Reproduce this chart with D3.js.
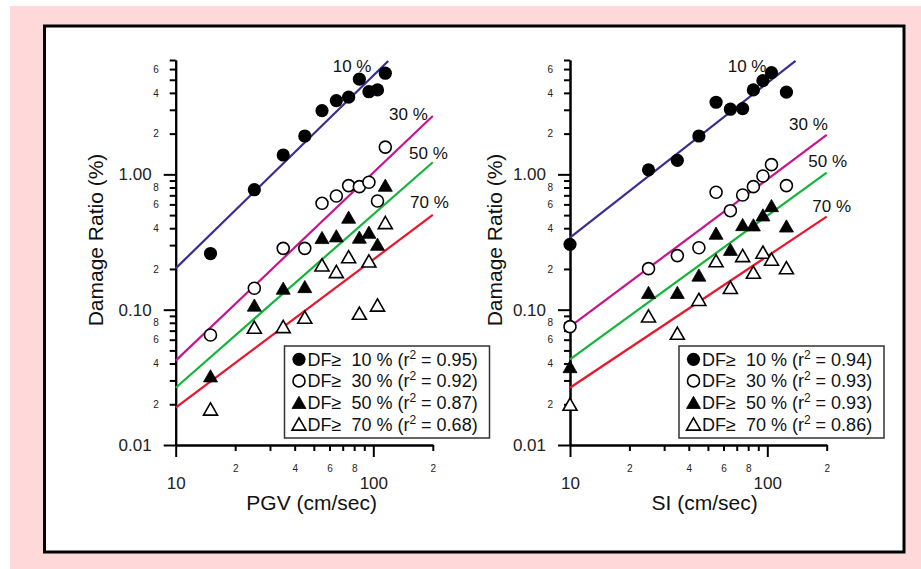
<!DOCTYPE html>
<html>
<head>
<meta charset="utf-8">
<script src="https://cdn.jsdelivr.net/npm/d3@7"></script>
<style>
html,body{margin:0;padding:0;background:#fff;}
svg{display:block;font-family:"Liberation Sans",Arial,Helvetica,sans-serif;}
</style>
</head>
<body>
<svg id="chart" width="921" height="569"></svg>
<script>
// ---------------- data ----------------
const groups = ["DF≥ 10 %", "DF≥ 30 %", "DF≥ 50 %", "DF≥ 70 %"];
const groupPct = ["10 %", "30 %", "50 %", "70 %"];

const pgvX    = [15, 25, 35, 45, 55, 65, 75, 85, 95, 105, 115];
const pgvDF10 = [0.26, 0.77, 1.39, 1.92, 2.96, 3.51, 3.72, 5.05, 4.08, 4.21, 5.59];
const pgvDF30 = [0.065, 0.144, 0.284, 0.284, 0.611, 0.692, 0.826, 0.811, 0.874, 0.636, 1.59];
const pgvDF50 = [0.0324, 0.108, 0.144, 0.148, 0.341, 0.351, 0.482, 0.343, 0.373, 0.304, 0.83];
const pgvDF70 = [0.0184, 0.0741, 0.0749, 0.0879, 0.214, 0.191, 0.246, 0.094, 0.229, 0.108, 0.44];
const pgvFit10 = [[10, 0.202], [119, 6.89]];
const pgvFit30 = [[10, 0.042], [200, 2.70]];
const pgvFit50 = [[10, 0.0265], [200, 1.228]];
const pgvFit70 = [[10, 0.0189], [200, 0.501]];
const pgvR2 = ["0.95", "0.92", "0.87", "0.68"];

const siX    = [10, 25, 35, 45, 55, 65, 75, 85, 95, 105, 125];
const siDF10 = [0.304, 1.08, 1.27, 1.92, 3.41, 3.03, 3.06, 4.21, 4.93, 5.65, 4.05];
const siDF30 = [0.0749, 0.201, 0.251, 0.287, 0.738, 0.539, 0.704, 0.811, 0.973, 1.18, 0.826];
const siDF50 = [0.0379, 0.134, 0.134, 0.18, 0.367, 0.279, 0.425, 0.423, 0.501, 0.587, 0.415];
const siDF70 = [0.02, 0.0898, 0.0669, 0.119, 0.23, 0.146, 0.251, 0.189, 0.266, 0.236, 0.204];
const siFit10 = [[10, 0.341], [139, 6.89]];
const siFit30 = [[10, 0.0749], [200, 1.955]];
const siFit50 = [[10, 0.043], [200, 1.03]];
const siFit70 = [[10, 0.0265], [200, 0.487]];
const siR2 = ["0.94", "0.93", "0.93", "0.86"];

const yMajorTicks = [0.01, 0.1, 1];
const yMajorLabels = ["0.01", "0.10", "1.00"];
const yMinorTicks = [0.02,0.03,0.04,0.05,0.06,0.07,0.08,0.09,0.2,0.3,0.4,0.5,0.6,0.7,0.8,0.9,2,3,4,5,6,7];
const yMinorLabels = {0.02:"2",0.04:"4",0.06:"6",0.08:"8",0.2:"2",0.4:"4",0.6:"6",0.8:"8",2:"2",4:"4",6:"6"};
const xMajorTicks = [10, 100];
const xMajorLabels = ["10", "100"];
const xMinorTicks = [20,30,40,50,60,70,80,90,200];
const xMinorLabels = {20:"2",40:"4",60:"6",80:"8",200:"2"};

// ---------------- layout / styles ----------------
const lineColors = ["#3b2c92", "#c8148c", "#12b53a", "#e8152d"];
const svg = d3.select("#chart");

svg.append("rect").attr("x",10).attr("y",6).attr("width",911).attr("height",563).attr("fill","#ffd9d9");
svg.append("rect").attr("x",44.5).attr("y",26).attr("width",859.5).attr("height",526)
  .attr("fill","#fff").attr("stroke","#000").attr("stroke-width",3);

const panels = [
  {x0:175.7, x1:432.8, title:"PGV (cm/sec)", titleX:311.7, yTitleX:103,
   xs:pgvX, series:[pgvDF10,pgvDF30,pgvDF50,pgvDF70], fits:[pgvFit10,pgvFit30,pgvFit50,pgvFit70], r2:pgvR2,
   pctPos:[[332.7,71.7],[389,120],[409,159.3],[410,208.3]], legendX:284.5},
  {x0:570, x1:826.7, title:"SI (cm/sec)", titleX:704.7, yTitleX:502,
   xs:siX, series:[siDF10,siDF30,siDF50,siDF70], fits:[siFit10,siFit30,siFit50,siFit70], r2:siR2,
   pctPos:[[727.7,71.7],[789,130],[808.3,166.7],[812.3,211.7]], legendX:679}
];

const y = d3.scaleLog().domain([0.01, 7]).range([445, 60]);

function marker(g, kind, cx, cy) {
  if (kind === 0) {
    g.append("circle").attr("cx",cx).attr("cy",cy).attr("r",6.6).attr("fill","#000");
  } else if (kind === 1) {
    g.append("circle").attr("cx",cx).attr("cy",cy).attr("r",6).attr("fill","#fff")
      .attr("stroke","#000").attr("stroke-width",1.6);
  } else {
    const p = d3.path();
    p.moveTo(cx, cy-6.2); p.lineTo(cx+7, cy+6); p.lineTo(cx-7, cy+6); p.closePath();
    g.append("path").attr("d", p.toString())
      .attr("fill", kind === 2 ? "#000" : "#fff")
      .attr("stroke","#000").attr("stroke-width", kind === 2 ? 0.8 : 1.6)
      .attr("stroke-linejoin","miter");
  }
}

panels.forEach(P => {
  const x = d3.scaleLog().domain([10, 200]).range([P.x0, P.x1]);
  const g = svg.append("g");

  // Y axis
  const yMinor = g.append("g").attr("transform",`translate(${P.x0},0)`)
    .call(d3.axisLeft(y).tickValues(yMinorTicks).tickSize(6).tickSizeOuter(0).tickPadding(11)
      .tickFormat(d => yMinorLabels[d] || ""));
  yMinor.selectAll("text").attr("font-size",10).attr("fill","#222").attr("font-family",null);
  const yMajor = g.append("g").attr("transform",`translate(${P.x0},0)`)
    .call(d3.axisLeft(y).tickValues(yMajorTicks).tickSize(12).tickSizeOuter(0).tickPadding(12)
      .tickFormat((d,i) => yMajorLabels[i]));
  yMajor.selectAll("text").attr("font-size",17).attr("fill","#222").attr("font-family",null);

  // X axis
  const xMinor = g.append("g").attr("transform","translate(0,445)")
    .call(d3.axisBottom(x).tickValues(xMinorTicks).tickSize(6).tickSizeOuter(0).tickPadding(14)
      .tickFormat(d => xMinorLabels[d] || ""));
  xMinor.selectAll("text").attr("font-size",10).attr("fill","#222").attr("font-family",null);
  const xMajor = g.append("g").attr("transform","translate(0,445)")
    .call(d3.axisBottom(x).tickValues(xMajorTicks).tickSize(12).tickSizeOuter(0).tickPadding(20)
      .tickFormat((d,i) => xMajorLabels[i]));
  xMajor.selectAll("text").attr("font-size",17).attr("fill","#222").attr("font-family",null);

  g.selectAll(".domain, .tick line").attr("stroke","#000").attr("stroke-width",2);

  // titles
  g.append("text").attr("x",P.titleX).attr("y",510).attr("text-anchor","middle")
    .attr("font-size",21).attr("fill","#111").text(P.title);
  g.append("text").attr("transform",`translate(${P.yTitleX},240) rotate(-90)`).attr("text-anchor","middle")
    .attr("font-size",21).attr("fill","#111").text("Damage Ratio (%)");

  // fit lines
  const line = d3.line().x(d => x(d[0])).y(d => y(d[1]));
  P.fits.forEach((f,i) => {
    g.append("path").attr("d", line(f)).attr("fill","none")
      .attr("stroke", lineColors[i]).attr("stroke-width",2.2);
  });

  // percent labels
  P.pctPos.forEach((pos,i) => {
    g.append("text").attr("x",pos[0]).attr("y",pos[1]).attr("font-size",17)
      .attr("fill","#111").text(groupPct[i]);
  });

  // points
  P.series.forEach((s,k) => {
    s.forEach((v,j) => marker(g, k, x(P.xs[j]), y(v)));
  });

  // legend
  const L = g.append("g");
  L.append("rect").attr("x",P.legendX).attr("y",346).attr("width",205).attr("height",92)
    .attr("fill","#fff").attr("stroke","#333").attr("stroke-width",1.5);
  groups.forEach((name,i) => {
    const cy = 359.3 + i*21.6;
    marker(L, i, P.legendX + 14.5, cy);
    const t = L.append("text").attr("x",P.legendX + 23).attr("y",cy + 6.5)
      .attr("font-size",18).attr("fill","#111").style("white-space","pre");
    t.append("tspan").text(name.replace("≥ ", "≥  ") + " (r");
    t.append("tspan").attr("dy",-7).attr("font-size",12).text("2");
    t.append("tspan").attr("dy",7).text(" = " + P.r2[i] + ")");
  });
});
</script>
</body>
</html>
